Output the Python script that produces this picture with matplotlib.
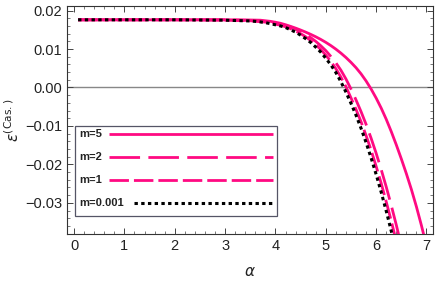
import matplotlib
matplotlib.use("Agg")
import matplotlib.pyplot as plt
from matplotlib.ticker import MultipleLocator, FixedLocator
from matplotlib.patches import Rectangle

# ---- data ----
alpha_m5 = [0.08, 1.0, 2.0, 3.0, 3.5, 3.7, 3.8, 3.9, 4.0, 4.1, 4.2, 4.3, 4.4, 4.5, 4.6, 4.7, 4.8,
            4.9, 5.0, 5.1, 5.2, 5.3, 5.4, 5.5, 5.6, 5.7, 5.8, 5.9, 6.0, 6.1, 6.2, 6.3, 6.4,
            6.5, 6.6, 6.7, 6.8, 6.9, 7.0]
eps_m5 = [0.0176, 0.0176, 0.0176, 0.0176, 0.01755, 0.0175, 0.01735, 0.0172, 0.01697, 0.0167,
          0.01632, 0.0159, 0.01544, 0.01494, 0.0144, 0.01382, 0.01319, 0.0125, 0.01174, 0.0109,
          0.00997, 0.00894, 0.0078, 0.00654, 0.00515, 0.00355, 0.0017, -0.0004, -0.00275,
          -0.00535, -0.00825, -0.01145, -0.0149, -0.01855, -0.0224, -0.0265, -0.031, -0.0359,
          -0.0412]

alpha_m2 = [0.08, 1.0, 2.0, 3.0, 3.5, 3.6, 3.7, 3.8, 3.9, 4.0, 4.1, 4.2, 4.3, 4.4, 4.5, 4.6,
            4.7, 4.8, 4.9, 5.0, 5.1, 5.2, 5.3, 5.4, 5.5, 5.6, 5.7, 5.8, 5.9, 6.0, 6.1, 6.2,
            6.3, 6.4, 6.5]
eps_m2 = [0.0176, 0.0176, 0.0176, 0.0176, 0.01745, 0.0173, 0.01725, 0.0172, 0.01695, 0.01668,
          0.01639, 0.01609, 0.01572, 0.01518, 0.01458, 0.01384, 0.01297, 0.0120, 0.01086,
          0.00959, 0.00808, 0.00641, 0.0045, 0.00222, -0.00039, -0.00323, -0.00627, -0.00958,
          -0.01319, -0.0171, -0.02131, -0.02582, -0.03063, -0.03574, -0.04115]

alpha_m1 = [0.08, 1.0, 2.0, 3.0, 3.5, 3.6, 3.7, 3.8, 3.9, 4.0, 4.1, 4.2, 4.3, 4.4, 4.5, 4.6,
            4.7, 4.8, 4.9, 5.0, 5.1, 5.2, 5.3, 5.4, 5.5, 5.6, 5.7, 5.8, 5.9, 6.0, 6.1, 6.2,
            6.3, 6.4, 6.45]
eps_m1 = [0.0176, 0.0176, 0.0176, 0.0175, 0.01735, 0.01725, 0.0171, 0.0170, 0.0167, 0.01645,
          0.0162, 0.0158, 0.0153, 0.0147, 0.0140, 0.0132, 0.0122, 0.0111, 0.0099, 0.0084,
          0.0068, 0.0049, 0.0027, 0.0002, -0.0027, -0.0057, -0.0089, -0.0125, -0.0163,
          -0.0205, -0.0249, -0.0297, -0.0347, -0.0400, -0.0428]

alpha_m0 = [0.08, 1.0, 2.0, 3.0, 3.5, 3.6, 3.7, 3.8, 3.9, 4.0, 4.1, 4.2, 4.3, 4.4, 4.5, 4.6,
            4.7, 4.8, 4.9, 5.0, 5.1, 5.2, 5.3, 5.4, 5.5, 5.6, 5.7, 5.8, 5.9, 6.0, 6.1, 6.2,
            6.3, 6.35, 6.4]
eps_m0 = [0.0176, 0.0176, 0.0176, 0.0175, 0.0173, 0.0172, 0.01705, 0.01685, 0.0166, 0.0163,
          0.0160, 0.0156, 0.0150, 0.0144, 0.0136, 0.0127, 0.0117, 0.0105, 0.0092, 0.0076,
          0.0059, 0.0039, 0.0015, -0.0012, -0.0041, -0.0072, -0.0106, -0.0143, -0.0183,
          -0.0226, -0.0272, -0.0321, -0.0373, -0.0400, -0.0428]

labels = ["m=5", "m=2", "m=1", "m=0.001"]
xticks = [0, 1, 2, 3, 4, 5, 6, 7]
yticks = [-0.03, -0.02, -0.01, 0.00, 0.01, 0.02]
ytick_labels = ["\u22120.03", "\u22120.02", "\u22120.01", "0.00", "0.01", "0.02"]

pink = "#FF0A82"
styles = [
    dict(color=pink, lw=2.0, ls="-"),
    dict(color=pink, lw=2.0, ls=(0, (11, 3))),
    dict(color=pink, lw=2.0, ls=(0, (7, 1.8))),
    dict(color="black", lw=2.2, ls=(0, (1.1, 1.1))),
]

plt.rcParams["font.family"] = ["Liberation Sans", "DejaVu Sans"]

fig = plt.figure(figsize=(4.36, 2.84), dpi=100)
ax = fig.add_axes([0.1537, 0.176, 0.8395, 0.803])

ax.axhline(0, color="#888888", lw=1.0, zorder=1)

series = [(alpha_m5, eps_m5), (alpha_m2, eps_m2), (alpha_m1, eps_m1), (alpha_m0, eps_m0)]
for (xs, ys), st in zip(series, styles):
    ax.plot(xs, ys, solid_capstyle="butt", dash_capstyle="butt",
            solid_joinstyle="round", zorder=3, **st)

ax.set_xlim(-0.14, 7.13)
ax.set_ylim(-0.0381, 0.0212)

ax.xaxis.set_major_locator(FixedLocator(xticks))
ax.xaxis.set_minor_locator(MultipleLocator(0.2))
ax.yaxis.set_major_locator(FixedLocator(yticks))
ax.set_yticklabels(ytick_labels)
ax.yaxis.set_minor_locator(MultipleLocator(0.002))

ax.tick_params(which="both", direction="in", top=True, right=True, colors="#444444",
               labelcolor="#222222", labelsize=10.5)
ax.tick_params(which="major", length=4.5, width=0.7)
ax.tick_params(which="minor", length=2.5, width=0.5)
for s in ax.spines.values():
    s.set_color("#333333")
    s.set_linewidth(0.8)

ax.set_xlabel("$\\alpha$", fontsize=11, labelpad=9, color="#222222")
ax.set_ylabel("$\\epsilon^{(\\mathrm{Cas.})}$", fontsize=11, labelpad=2, color="#222222")

# ---- legend (drawn as a framed box, Mathematica style) ----
def px2ax(px, py):
    x0, y0, w, h = 67, 6, 366, 228
    return (px - x0) / w, 1 - (py - y0) / h

lx0, ly0 = px2ax(75, 216)
lx1, ly1 = px2ax(277, 126)
ax.add_patch(Rectangle((lx0, ly0), lx1 - lx0, ly1 - ly0, transform=ax.transAxes,
                       facecolor="white", edgecolor="#555566", lw=0.9, zorder=5))
rows_py = [134, 157, 180, 203]
line_start_px = [109, 109, 109, 134]
for lab, st, py, sx in zip(labels, styles, rows_py, line_start_px):
    tx, ty = px2ax(79, py)
    ax.text(tx, ty, lab, transform=ax.transAxes, fontsize=8, fontweight="bold",
            va="center", ha="left", color="#222222", zorder=6)
    a0, b0 = px2ax(sx, py)
    a1, _ = px2ax(273, py)
    ax.plot([a0, a1], [b0, b0], transform=ax.transAxes, zorder=6,
            solid_capstyle="butt", dash_capstyle="butt", **st)

fig.savefig("out.png", dpi=100)
